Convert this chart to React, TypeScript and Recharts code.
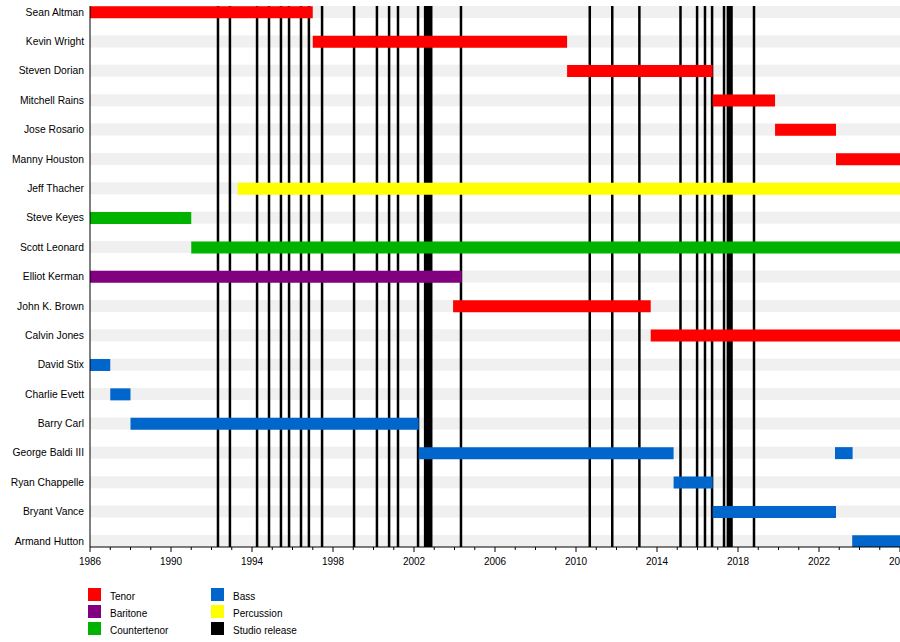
import React from 'react';
import { ComposedChart, Bar, Cell, XAxis, YAxis, ReferenceLine, ReferenceArea } from 'recharts';

const members = [
  'Sean Altman', 'Kevin Wright', 'Steven Dorian', 'Mitchell Rains', 'Jose Rosario',
  'Manny Houston', 'Jeff Thacher', 'Steve Keyes', 'Scott Leonard', 'Elliot Kerman',
  'John K. Brown', 'Calvin Jones', 'David Stix', 'Charlie Evett', 'Barry Carl',
  'George Baldi III', 'Ryan Chappelle', 'Bryant Vance', 'Armand Hutton',
];

const roleColors: Record<string, string> = {
  Tenor: '#ff0000',
  Baritone: '#800080',
  Countertenor: '#00b300',
  Bass: '#0066cc',
  Percussion: '#ffff00',
};

// [member, role, from, to]
const stints: [string, string, number, number][] = [
  ['Sean Altman', 'Tenor', 1986, 1997.0],
  ['Kevin Wright', 'Tenor', 1997.0, 2009.56],
  ['Steven Dorian', 'Tenor', 2009.56, 2016.75],
  ['Mitchell Rains', 'Tenor', 2016.75, 2019.83],
  ['Jose Rosario', 'Tenor', 2019.83, 2022.84],
  ['Manny Houston', 'Tenor', 2022.84, 2026],
  ['Jeff Thacher', 'Percussion', 1993.29, 2026],
  ['Steve Keyes', 'Countertenor', 1986, 1991.0],
  ['Scott Leonard', 'Countertenor', 1991.0, 2026],
  ['Elliot Kerman', 'Baritone', 1986, 2004.36],
  ['John K. Brown', 'Tenor', 2003.93, 2013.69],
  ['Calvin Jones', 'Tenor', 2013.69, 2026],
  ['David Stix', 'Bass', 1986, 1987.0],
  ['Charlie Evett', 'Bass', 1987.0, 1988.0],
  ['Barry Carl', 'Bass', 1988.0, 2002.23],
  ['George Baldi III', 'Bass', 2002.23, 2014.82],
  ['George Baldi III', 'Bass', 2022.79, 2023.66],
  ['Ryan Chappelle', 'Bass', 2014.82, 2016.75],
  ['Bryant Vance', 'Bass', 2016.75, 2022.84],
  ['Armand Hutton', 'Bass', 2023.64, 2026],
];

const studioReleases = [
  1992.32, 1992.91, 1994.25, 1994.84, 1995.43, 1995.83, 1996.42, 1996.81, 1997.46,
  1999.04, 2000.17, 2000.77, 2001.21, 2002.2, 2002.55, 2002.65, 2002.75, 2002.85,
  2004.32, 2010.68, 2011.79, 2013.13, 2015.16, 2015.98, 2016.37, 2016.72, 2017.31,
  2017.5, 2017.59, 2017.68, 2018.79,
];

const yearTicks = [
  1986, 1987, 1988, 1989, 1990, 1991, 1992, 1993, 1994, 1995, 1996, 1997, 1998, 1999,
  2000, 2001, 2002, 2003, 2004, 2005, 2006, 2007, 2008, 2009, 2010, 2011, 2012, 2013,
  2014, 2015, 2016, 2017, 2018, 2019, 2020, 2021, 2022, 2023, 2024, 2025, 2026,
];

const legendItems = [
  ['Tenor', '#ff0000'], ['Baritone', '#800080'], ['Countertenor', '#00b300'],
  ['Bass', '#0066cc'], ['Percussion', '#ffff00'], ['Studio release', '#000000'],
];

const FONT = '"Liberation Sans", Arial, Helvetica, sans-serif';
const HALF = 0.2042; // half a bar in row units

const YearTick = ({ x, y, payload }: any) => {
  const major = (payload.value - 1986) % 4 === 0;
  return (
    <g>
      <line x1={x} x2={x} y1={y} y2={y + (major ? 5 : 3)} stroke="#000" strokeWidth={1} />
      {major && (
        <text x={x} y={y + 18} textAnchor="middle" fontSize={10} fill="#000" fontFamily={FONT}>
          {payload.value}
        </text>
      )}
    </g>
  );
};

const NameTick = ({ x, y, payload }: any) => (
  <text x={x} y={y} dy="0.355em" textAnchor="end" fontSize={10.3} fill="#000" fontFamily={FONT}>
    {members[payload.value]}
  </text>
);

export default function App() {
  const data = stints.map(([name, role, from, to]) => ({
    row: members.indexOf(name),
    span: [from, to],
    role,
  }));

  return (
    <div style={{ position: 'relative', width: 900, height: 642, fontFamily: FONT, background: '#fff' }}>
      <style>{'body{margin:0}'}</style>
      <ComposedChart
        width={900}
        height={580}
        data={data}
        layout="vertical"
        margin={{ top: 6, right: 0, bottom: 3, left: 0 }}
      >
        <XAxis
          type="number"
          domain={[1986, 2026]}
          allowDataOverflow
          ticks={yearTicks}
          interval={0}
          tick={<YearTick />}
          tickLine={false}
          tickSize={0}
          tickMargin={0}
          height={30}
          stroke="#000"
        />
        <YAxis
          type="number"
          dataKey="row"
          domain={[-HALF, members.length - 1 + HALF]}
          allowDataOverflow
          ticks={members.map((_, i) => i)}
          interval={0}
          tick={<NameTick />}
          tickLine={false}
          tickSize={4}
          tickMargin={2}
          width={90}
          stroke="#000"
        />
        {members.map((m, i) => (
          <ReferenceArea
            key={m}
            x1={1986}
            x2={2026}
            y1={i - HALF}
            y2={i + HALF}
            fill="#f0f0f0"
            fillOpacity={1}
            stroke="none"
            zIndex={10}
          />
        ))}
        {studioReleases.map((yr) => (
          <ReferenceLine key={yr} x={yr} stroke="#000" strokeWidth={2.5} zIndex={20} />
        ))}
        <Bar dataKey="span" barSize={12} isAnimationActive={false}>
          {data.map((d, i) => (
            <Cell key={i} fill={roleColors[d.role]} />
          ))}
        </Bar>
      </ComposedChart>
      {legendItems.map(([label, color], i) => {
        const col = Math.floor(i / 3);
        const r = i % 3;
        return (
          <div
            key={label}
            style={{
              position: 'absolute',
              left: 88 + col * 123,
              top: 588 + r * 17,
              height: 13,
              display: 'flex',
              alignItems: 'center',
              fontSize: 10,
              color: '#000',
            }}
          >
            <span style={{ display: 'inline-block', width: 13, height: 13, background: color, marginRight: 9 }} />
            <span style={{ position: 'relative', top: 2 }}>{label}</span>
          </div>
        );
      })}
    </div>
  );
}
